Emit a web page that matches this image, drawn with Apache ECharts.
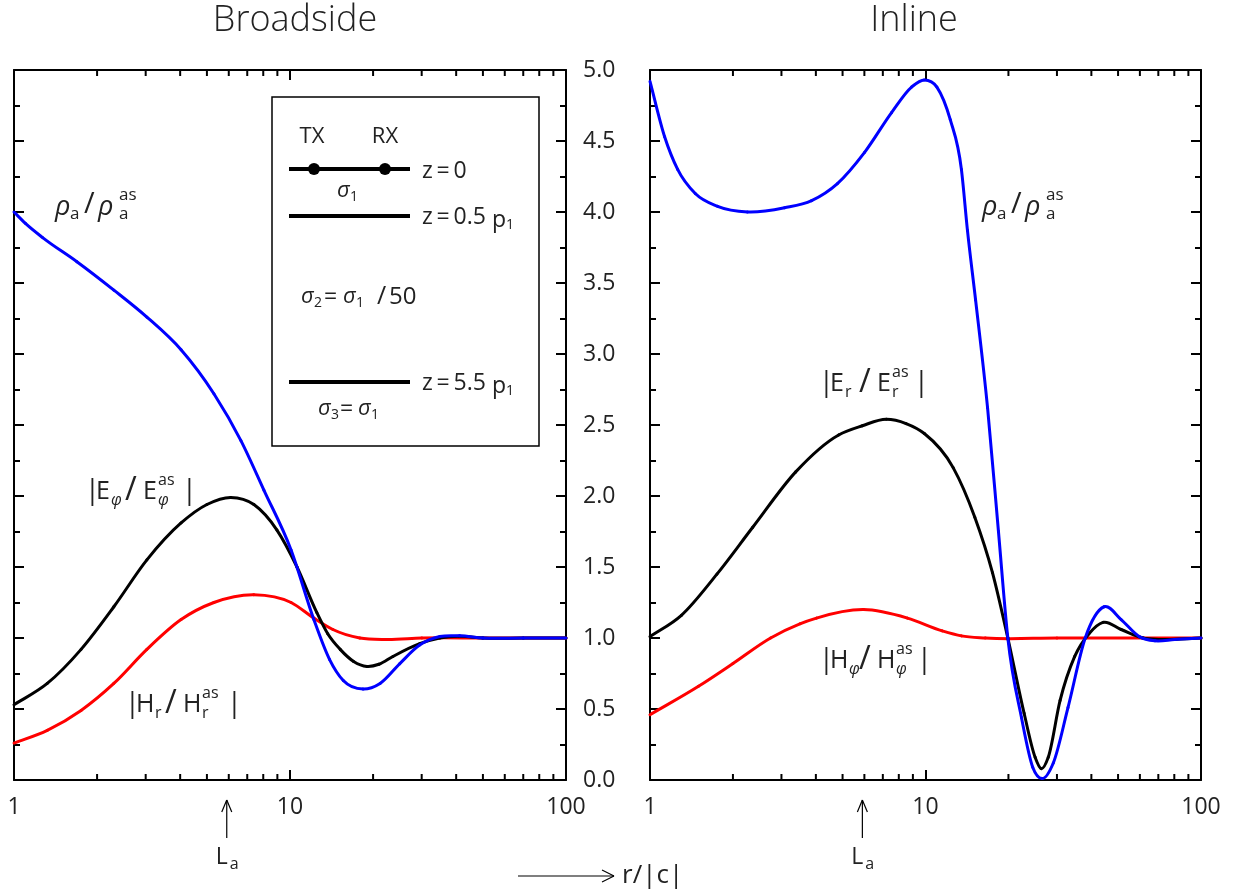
<!DOCTYPE html>
<html><head><meta charset="utf-8">
<script src="https://cdn.jsdelivr.net/npm/echarts@6/dist/echarts.min.js"></script>
<style>html,body{margin:0;padding:0;background:#fff}#c{width:1239px;height:895px}</style>
</head><body><div id="c"></div>
<script>
const FONT = '"Open Sans", "DejaVu Sans", sans-serif';
const TXT = '#222';

// axis ticks
const xMin = 1, xMax = 100;
const yMin = 0, yMax = 5, yStep = 0.5;
const minorXTicks = [2,3,4,5,6,7,8,9,20,30,40,50,60,70,80,90];
const La = 5.9;

// Broadside panel: [r/|c|, value]
const broadsideRho = [[1,4.00],[1.1,3.92],[1.27,3.82],[1.69,3.65],[2.30,3.45],[3.03,3.26],[4.03,3.03],[5.30,2.72],[6.64,2.39],[8.05,2.04],[10.09,1.62],[12.2,1.13],[13.9,0.85],[15.6,0.70],[18.4,0.64],[21.2,0.68],[25.0,0.82],[29.5,0.95],[34.9,1.01],[41.2,1.015],[50,1.0],[70,1.0],[100,1.0]];
const broadsideE = [[1,0.53],[1.32,0.68],[1.75,0.92],[2.30,1.22],[3.03,1.55],[4.03,1.81],[5.0,1.94],[6.1,1.99],[7.4,1.94],[8.97,1.76],[10.6,1.50],[12.5,1.18],[13.7,1.03],[15.2,0.92],[17,0.835],[19.0,0.80],[21,0.815],[23.6,0.87],[29.5,0.96],[34.9,1.0],[41,1.012],[50,1.0],[70,1.0],[100,1.0]];
const broadsideH = [[1,0.26],[1.32,0.35],[1.75,0.49],[2.30,0.68],[3.03,0.92],[4.03,1.13],[5.30,1.25],[7.4,1.305],[10.09,1.25],[12.2,1.14],[14.3,1.06],[17.9,1.0],[22.4,0.99],[30,1.0],[50,1.0],[100,1.0]];

// Inline panel
const inlineRho = [[1,4.92],[1.13,4.53],[1.26,4.30],[1.46,4.13],[1.76,4.04],[2.26,4.0],[3.08,4.03],[3.86,4.08],[4.79,4.20],[6.01,4.42],[7.53,4.70],[8.9,4.88],[9.9,4.93],[11.0,4.88],[12.3,4.65],[13.5,4.30],[14.2,3.87],[15.2,3.38],[16.8,2.62],[18.4,1.75],[19.9,1.0],[22.3,0.44],[24.5,0.09],[26.5,0.01],[29.1,0.12],[32.9,0.51],[38.0,1.0],[44.5,1.22],[51.3,1.13],[59.7,1.01],[68.1,0.98],[80.3,0.99],[100,1.0]];
const inlineE = [[1,1.01],[1.30,1.16],[1.75,1.45],[2.36,1.78],[3.38,2.17],[4.84,2.43],[5.9,2.495],[7.2,2.54],[8.5,2.51],[9.9,2.44],[12.6,2.20],[15.1,1.85],[17.5,1.46],[19.9,1.0],[22.8,0.47],[25.0,0.16],[26.3,0.08],[27.9,0.16],[30.8,0.56],[34.8,0.87],[39.2,1.03],[44.1,1.11],[51.3,1.06],[61.6,1.0],[70,0.99],[100,1.0]];
const inlineH = [[1,0.46],[1.5,0.66],[2.0,0.82],[2.74,1.00],[3.5,1.10],[4.02,1.14],[5.96,1.20],[8.6,1.14],[11.5,1.05],[13.5,1.015],[16.5,1.0],[30,1.0],[100,1.0]];

const chart = echarts.init(document.getElementById('c'), null, {renderer:'canvas'});

const axisLine = {show:true, onZero:false, lineStyle:{color:'#000', width:2}};
function xAx(grid, pos, labels){
  return {type:'log', logBase:10, min:xMin, max:xMax, gridIndex:grid, position:pos,
    axisLine, splitLine:{show:false},
    axisTick:{show:true, inside:true, length:10, lineStyle:{color:'#000', width:2}},
    axisLabel:{show:labels, margin:16, fontSize:23, fontFamily:FONT, color:TXT}};
}
function yAx(grid, pos, labels){
  return {type:'value', min:yMin, max:yMax, interval:yStep, gridIndex:grid, position:pos,
    axisLine, splitLine:{show:false},
    axisTick:{show:true, inside:true, length:10, lineStyle:{color:'#000', width:2}},
    minorTick:{show:true, splitNumber:2, length:6, lineStyle:{color:'#000', width:2}},
    axisLabel:{show:labels, margin:17, fontSize:23, fontFamily:FONT, color:TXT, align:'left',
      formatter:v=>v.toFixed(1)}};
}
// smooth curve through the data points, positioned by the axes (api.coord)
function curve(name, data, color, xi, yi){
  return {type:'custom', name, xAxisIndex:xi, yAxisIndex:yi, data, clip:false, silent:true, z:3, animation:false,
    renderItem(params, api){
      if (params.dataIndex !== 0) return null;
      const p = data.map(d => api.coord(d));
      const n = p.length, m = new Array(n);
      const s = [];
      for (let i = 0; i < n-1; i++) s.push((p[i+1][1]-p[i][1])/(p[i+1][0]-p[i][0]));
      m[0] = s[0]; m[n-1] = s[n-2];
      for (let i = 1; i < n-1; i++){
        const d0 = p[i][0]-p[i-1][0], d1 = p[i+1][0]-p[i][0];
        m[i] = (s[i-1]*d1 + s[i]*d0)/(d0+d1);
      }
      const kids = [];
      for (let i = 0; i < n-1; i++){
        const dx = p[i+1][0]-p[i][0];
        kids.push({type:'bezierCurve', shape:{x1:p[i][0], y1:p[i][1], x2:p[i+1][0], y2:p[i+1][1],
          cpx1:p[i][0]+dx/3, cpy1:p[i][1]+m[i]*dx/3, cpx2:p[i+1][0]-dx/3, cpy2:p[i+1][1]-m[i+1]*dx/3},
          style:{stroke:color, lineWidth:3, fill:null, lineCap:'round'}});
      }
      return {type:'group', children:kids};
    }};
}
function minorTicks(xi, yi){
  return {type:'custom', xAxisIndex:xi, yAxisIndex:yi, data:minorXTicks.map(v=>[v,0]), silent:true, clip:false,
    animation:false,
    renderItem(params, api){
      const x = api.coord([api.value(0), 0])[0];
      const cs = params.coordSys;
      const b = cs.y + cs.height, t = cs.y;
      return {type:'group', children:[
        {type:'line', shape:{x1:x,y1:b,x2:x,y2:b-6}, style:{stroke:'#000', lineWidth:2}},
        {type:'line', shape:{x1:x,y1:t,x2:x,y2:t+6}, style:{stroke:'#000', lineWidth:2}}
      ]};
    }};
}

function T(x, y, s, size, o){
  o = o || {};
  return {type:'text', x, y, silent:true, z:10, style:{text:s, fontSize:size, fontFamily:FONT, fill:TXT,
    align:o.align||'left', verticalAlign:'middle', fontStyle:o.it?'italic':'normal', fontWeight:o.w||'normal'}};
}
function L(x1,y1,x2,y2,w){
  return {type:'line', silent:true, z:10, shape:{x1,y1,x2,y2}, style:{stroke:'#000', lineWidth:w||1}};
}

function rhoLabel(x, y){
  return [T(x,y+1,'ρ',27,{it:true}), T(x+15,y+8,'a',17), T(x+29,y-1,'/',29), T(x+43,y+1,'ρ',27,{it:true}),
          T(x+64,y-11,'as',17), T(x+64,y+8,'a',17)];
}
function ratioLabel(x0, y, big, sub, subIt, bw, bar){
  return [T(x0-5,y-1,'|',27), T(x0+6,y,big,25), T(x0+7+bw,y+8,sub,16,{it:subIt}), T(x0+35,y-1,'/',32),
          T(x0+53,y,big,25), T(x0+54+bw,y-12,'as',16), T(x0+54+bw,y+8,sub,16,{it:subIt}), T(x0+bar-6,y-1,'|',27)];
}

const graphics = [
  T(295,21,'Broadside',36,{align:'center', w:300}),
  T(914,21,'Inline',36,{align:'center', w:300}),
  {type:'rect', silent:true, z:9, shape:{x:272,y:97,width:267,height:349}, style:{fill:'#fff', stroke:'#000', lineWidth:1.5}},
  T(312,137,'TX',22,{align:'center'}), T(385,137,'RX',22,{align:'center'}),
  L(289,169,410,169,4),
  {type:'circle', silent:true, z:11, shape:{cx:314, cy:169, r:6}, style:{fill:'#000'}},
  {type:'circle', silent:true, z:11, shape:{cx:385, cy:169, r:6}, style:{fill:'#000'}},
  T(422,171,'z\u2009=\u20090',23),
  T(337,191,'σ',22,{it:true}), T(350,197,'1',14),
  L(289,216,410,216,4),
  T(422,217,'z\u2009=\u20090.5',23), T(492,220,'p',23), T(506,225,'1',14),
  T(301,297,'σ',22,{it:true}), T(314,303,'2',14), T(324,297,'=',23), T(343,297,'σ',22,{it:true}), T(356,303,'1',14),
  T(377,297,'/',25), T(389,297,'50',24),
  L(289,382,410,382,4),
  T(422,383,'z\u2009=\u20095.5',23), T(492,386,'p',23), T(506,391,'1',14),
  T(318,409,'σ',22,{it:true}), T(331,415,'3',14), T(340,409,'=',23), T(358,409,'σ',22,{it:true}), T(371,415,'1',14),
  ...rhoLabel(55,206),
  ...rhoLabel(982,206),
  ...ratioLabel(90,492,'E','φ',true,14,98),
  ...ratioLabel(130,705,'H','r',false,18,103),
  ...ratioLabel(824,384,'E','r',false,14,96),
  ...ratioLabel(824,661,'H','φ',true,18,99),
  L(518,876,614,876,1.2), L(614,876,602,870,1.2), L(614,876,602,882,1.2),
  T(622,876,'r/|c|',26)
];

chart.setOption({
  animation:false,
  backgroundColor:'#fff',
  grid:[{left:14, top:70, width:552, height:710}, {left:650, top:70, width:551, height:710}],
  xAxis:[xAx(0,'bottom',true), xAx(0,'top',false), xAx(1,'bottom',true), xAx(1,'top',false)],
  yAxis:[yAx(0,'left',false), yAx(0,'right',true), yAx(1,'left',false), yAx(1,'right',false)],
  series:[
    curve('|Hr/Hr^as|', broadsideH,'#ff0000',0,0), curve('|Eφ/Eφ^as|', broadsideE,'#000000',0,0), curve('ρa/ρa^as', broadsideRho,'#0000ff',0,0),
    curve('|Hφ/Hφ^as|', inlineH,'#ff0000',2,2), curve('|Er/Er^as|', inlineE,'#000000',2,2), curve('ρa/ρa^as', inlineRho,'#0000ff',2,2),
    minorTicks(0,0), minorTicks(2,2)
  ],
  graphic:graphics
});

// L_a markers placed through the axes' own scales
const laEls = [];
[0,2].forEach(xi=>{
  const x = chart.convertToPixel({xAxisIndex:xi}, La);
  laEls.push(L(x,838,x,800,1.2), L(x,800,x-5,812,1.2), L(x,800,x+5,812,1.2),
             T(x-11,857,'L',23), T(x+3,864,'a',16));
});
chart.setOption({graphic:graphics.concat(laEls)});
</script></body></html>
